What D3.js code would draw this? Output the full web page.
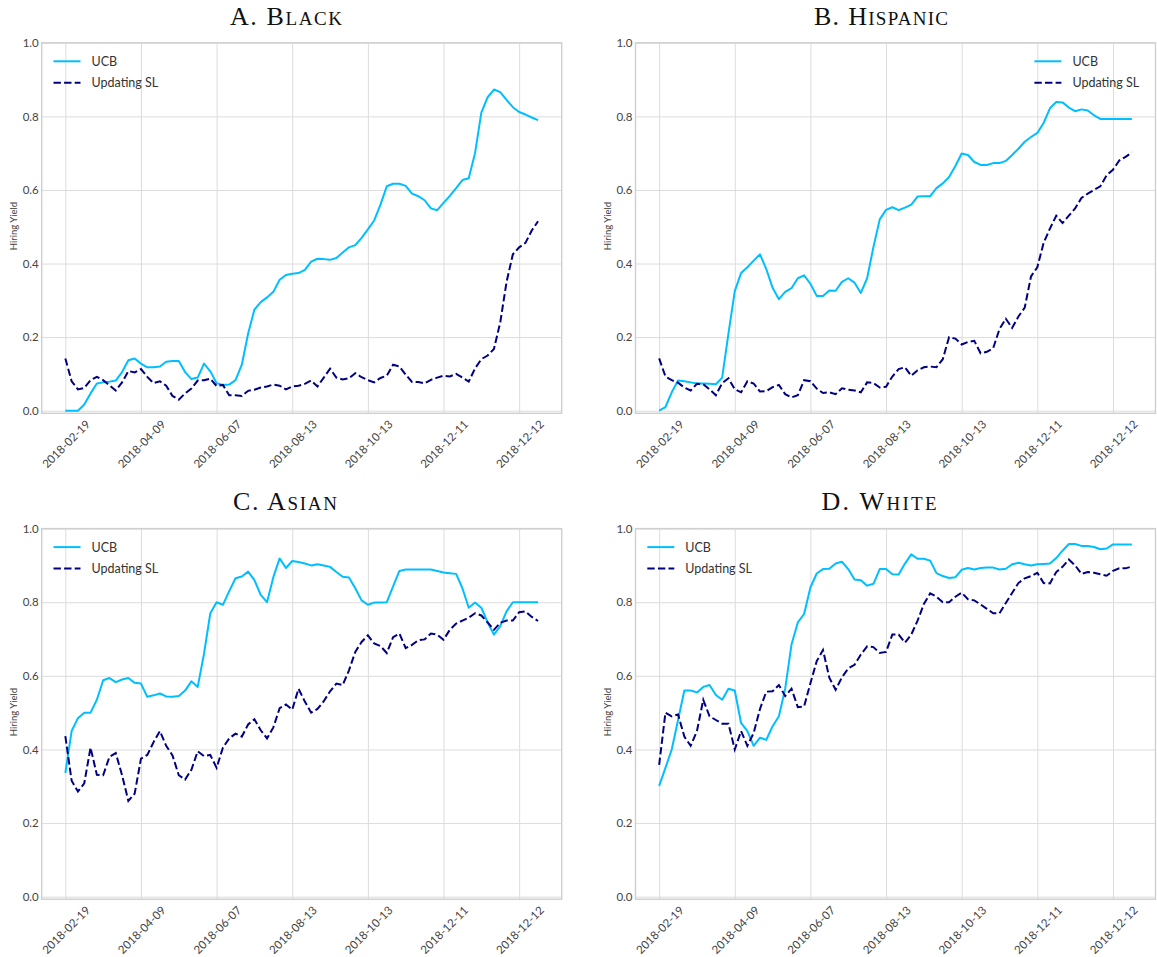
<!DOCTYPE html>
<html><head><meta charset="utf-8">
<script src="https://d3js.org/d3.v7.min.js"></script>
<style>
html,body{margin:0;padding:0;background:#fff;}
svg{display:block;}
</style></head>
<body>
<svg id="chart" width="1157" height="957"></svg>
<script>
// ---------- data ----------
const xTickLabels = ["2018-02-19","2018-04-09","2018-06-07","2018-08-13","2018-10-13","2018-12-11","2018-12-12"];
const tickStep = 12;
const yTicks = [0, 0.2, 0.4, 0.6, 0.8, 1.0];
const panelTitles = ["A. Black", "B. Hispanic", "C. Asian", "D. White"];
const seriesNames = ["UCB", "Updating SL"];

const blackUCB = [0.0,0.0,0.0,0.017,0.047,0.074,0.077,0.079,0.082,0.105,0.137,0.142,0.128,0.118,0.118,0.12,0.133,0.135,0.135,0.105,0.086,0.09,0.128,0.107,0.075,0.07,0.071,0.083,0.125,0.21,0.275,0.295,0.308,0.323,0.356,0.369,0.372,0.374,0.383,0.405,0.413,0.412,0.41,0.415,0.43,0.444,0.45,0.47,0.493,0.517,0.56,0.61,0.617,0.617,0.611,0.59,0.583,0.572,0.55,0.545,0.565,0.584,0.605,0.627,0.632,0.7,0.81,0.852,0.873,0.866,0.845,0.825,0.812,0.805,0.797,0.79];
const blackSL = [0.142,0.08,0.058,0.062,0.083,0.092,0.083,0.069,0.055,0.077,0.108,0.104,0.113,0.092,0.075,0.08,0.068,0.04,0.03,0.047,0.06,0.082,0.083,0.087,0.067,0.07,0.042,0.042,0.04,0.054,0.057,0.063,0.066,0.071,0.068,0.058,0.066,0.068,0.073,0.082,0.066,0.09,0.114,0.09,0.085,0.088,0.102,0.091,0.083,0.077,0.089,0.095,0.125,0.12,0.098,0.078,0.078,0.074,0.084,0.09,0.095,0.093,0.1,0.09,0.079,0.115,0.14,0.15,0.168,0.24,0.35,0.425,0.444,0.456,0.49,0.515];

const hispUCB = [0.0,0.01,0.05,0.082,0.08,0.077,0.074,0.074,0.073,0.072,0.09,0.21,0.325,0.374,0.39,0.408,0.425,0.385,0.334,0.303,0.323,0.333,0.36,0.368,0.345,0.312,0.312,0.327,0.326,0.35,0.36,0.348,0.32,0.36,0.445,0.52,0.546,0.553,0.545,0.552,0.56,0.582,0.583,0.583,0.605,0.618,0.635,0.665,0.699,0.695,0.676,0.668,0.668,0.673,0.673,0.679,0.695,0.712,0.731,0.744,0.755,0.782,0.822,0.839,0.838,0.824,0.814,0.819,0.816,0.803,0.793,0.793,0.793,0.793,0.793,0.793];
const hispSL = [0.142,0.093,0.083,0.076,0.063,0.055,0.073,0.072,0.058,0.042,0.075,0.088,0.058,0.05,0.08,0.074,0.052,0.053,0.064,0.07,0.045,0.036,0.042,0.083,0.08,0.06,0.048,0.05,0.045,0.061,0.057,0.055,0.05,0.077,0.075,0.063,0.065,0.093,0.113,0.118,0.095,0.11,0.118,0.12,0.118,0.14,0.2,0.196,0.18,0.187,0.19,0.156,0.16,0.17,0.222,0.25,0.225,0.256,0.28,0.365,0.39,0.456,0.495,0.53,0.51,0.53,0.55,0.578,0.59,0.6,0.61,0.64,0.655,0.68,0.69,0.702];

const asianUCB = [0.336,0.45,0.485,0.5,0.5,0.535,0.588,0.594,0.583,0.59,0.594,0.581,0.579,0.543,0.547,0.552,0.544,0.543,0.545,0.56,0.585,0.57,0.66,0.77,0.8,0.793,0.83,0.865,0.87,0.883,0.86,0.82,0.8,0.868,0.919,0.893,0.912,0.909,0.905,0.9,0.903,0.9,0.896,0.882,0.869,0.867,0.838,0.805,0.793,0.799,0.799,0.8,0.843,0.885,0.889,0.889,0.889,0.889,0.889,0.885,0.881,0.879,0.877,0.838,0.785,0.799,0.785,0.745,0.712,0.735,0.775,0.8,0.8,0.8,0.8,0.8];
const asianSL = [0.436,0.315,0.286,0.308,0.405,0.331,0.33,0.38,0.39,0.33,0.26,0.28,0.375,0.385,0.42,0.45,0.41,0.384,0.33,0.318,0.345,0.395,0.382,0.385,0.35,0.405,0.43,0.443,0.435,0.468,0.482,0.452,0.43,0.46,0.512,0.522,0.508,0.565,0.53,0.5,0.51,0.531,0.558,0.579,0.575,0.615,0.665,0.692,0.71,0.688,0.681,0.662,0.705,0.715,0.675,0.684,0.697,0.699,0.715,0.712,0.698,0.725,0.742,0.75,0.758,0.77,0.764,0.745,0.725,0.744,0.75,0.75,0.773,0.775,0.76,0.749];

const whiteUCB = [0.301,0.35,0.4,0.48,0.56,0.56,0.555,0.57,0.575,0.548,0.535,0.565,0.56,0.472,0.45,0.41,0.432,0.426,0.463,0.49,0.565,0.685,0.745,0.768,0.84,0.878,0.89,0.891,0.905,0.91,0.89,0.862,0.86,0.845,0.85,0.89,0.89,0.876,0.875,0.905,0.93,0.918,0.918,0.913,0.879,0.871,0.866,0.868,0.888,0.893,0.889,0.893,0.894,0.894,0.889,0.891,0.903,0.907,0.903,0.9,0.903,0.904,0.905,0.92,0.94,0.958,0.958,0.953,0.953,0.95,0.944,0.946,0.957,0.957,0.957,0.957];
const whiteSL = [0.358,0.5,0.49,0.495,0.435,0.41,0.45,0.535,0.49,0.48,0.47,0.47,0.4,0.45,0.41,0.445,0.51,0.557,0.558,0.575,0.545,0.565,0.515,0.517,0.58,0.64,0.67,0.595,0.562,0.596,0.62,0.63,0.658,0.68,0.678,0.662,0.665,0.712,0.712,0.69,0.712,0.75,0.795,0.824,0.815,0.8,0.8,0.815,0.826,0.808,0.805,0.794,0.782,0.77,0.77,0.798,0.825,0.852,0.865,0.871,0.88,0.852,0.851,0.882,0.896,0.916,0.9,0.877,0.882,0.88,0.876,0.872,0.885,0.892,0.892,0.897];

// ---------- layout ----------
const panels = [
  {title: panelTitles[0], ucb: blackUCB, sl: blackSL, left: 41.7, top: 42.8, bottom: 413.3, y1: 43.3, y0: 410.7, titleX: 286, titleY: 25, titleW: 112, legendRight: false, ylabX: 13},
  {title: panelTitles[1], ucb: hispUCB, sl: hispSL, left: 635.5, top: 42.8, bottom: 413.3, y1: 43.3, y0: 410.7, titleX: 881, titleY: 25, titleW: 134, legendRight: true, ylabX: 607.5},
  {title: panelTitles[2], ucb: asianUCB, sl: asianSL, left: 41.7, top: 528.6, bottom: 899.2, y1: 529.3, y0: 896.7, titleX: 285, titleY: 510, titleW: 104, legendRight: false, ylabX: 13.5},
  {title: panelTitles[3], ucb: whiteUCB, sl: whiteSL, left: 635.5, top: 528.6, bottom: 899.2, y1: 529.3, y0: 896.7, titleX: 879, titleY: 510, titleW: 115, legendRight: false, ylabX: 607.5, legendX: 647.3}
];
const panelW = 520;
const ucbColor = "#00BFFF";
const slColor = "#000080";
const labelFont = "Lato, 'Open Sans', sans-serif";

const svg = d3.select("#chart");

panels.forEach(p => {
  const n = p.ucb.length;
  const R = n - 1;
  const x = d3.scaleLinear().domain([-0.05 * R, 1.05 * R]).range([p.left, p.left + panelW]);
  const perUnit = (p.y0 - p.y1);
  const yMin = -(p.bottom - p.y0) / perUnit;
  const y = d3.scaleLinear().domain([yMin, 1.0]).range([p.bottom, p.top]);
  const g = svg.append("g");

  // y grid + labels
  const yAxis = g.append("g")
    .attr("transform", `translate(${p.left},0)`)
    .call(d3.axisLeft(y).tickValues(yTicks).tickFormat(d3.format(".1f")).tickSize(-panelW).tickPadding(3));
  yAxis.select(".domain").remove();
  yAxis.selectAll("line").attr("stroke", "#dcdcdc").attr("stroke-width", 1);
  yAxis.selectAll("text").attr("font-family", labelFont).attr("font-size", "11.5px").attr("fill", "#444");

  // x grid + labels
  const xTickVals = xTickLabels.map((_, i) => i * tickStep);
  const xAxis = g.append("g")
    .attr("transform", `translate(0,${p.bottom})`)
    .call(d3.axisBottom(x).tickValues(xTickVals).tickFormat((d, i) => xTickLabels[i]).tickSize(-(p.bottom - p.top)).tickPadding(0));
  xAxis.select(".domain").remove();
  xAxis.selectAll("line").attr("stroke", "#dcdcdc").attr("stroke-width", 1);
  xAxis.selectAll("text")
    .attr("y", null).attr("dy", null)
    .attr("text-anchor", "middle")
    .attr("dominant-baseline", "central")
    .attr("transform", "translate(0,30.5) rotate(-45)")
    .attr("font-family", labelFont).attr("font-size", "11.5px").attr("fill", "#444");

  // frame
  g.append("rect")
    .attr("x", p.left).attr("y", p.top)
    .attr("width", panelW).attr("height", p.bottom - p.top)
    .attr("fill", "none").attr("stroke", "#cfcfcf").attr("stroke-width", 1.4);

  // lines
  const line = d3.line().x((d, i) => x(i)).y(d => y(d));
  g.append("path").datum(p.ucb).attr("d", line)
    .attr("fill", "none").attr("stroke", ucbColor).attr("stroke-width", 2).attr("stroke-linejoin", "round");
  g.append("path").datum(p.sl).attr("d", line)
    .attr("fill", "none").attr("stroke", slColor).attr("stroke-width", 2)
    .attr("stroke-dasharray", "7.4,3.2");

  // title (small caps built from tspans)
  const t = g.append("text")
    .attr("x", p.titleX).attr("y", p.titleY)
    .attr("text-anchor", "middle")
    .attr("font-family", "'Liberation Serif', 'DejaVu Serif', serif")
    .attr("fill", "#111")
    .attr("textLength", p.titleW).attr("lengthAdjust", "spacing");
  const words = p.title.split(" ");
  words.forEach((w, wi) => {
    if (wi > 0) t.append("tspan").attr("font-size", "26px").text(" ");
    if (w.endsWith(".")) {
      t.append("tspan").attr("font-size", "26px").text(w);
    } else {
      t.append("tspan").attr("font-size", "26px").text(w[0]);
      t.append("tspan").attr("font-size", "19px").text(w.slice(1).toUpperCase());
    }
  });

  // y label
  g.append("text")
    .attr("transform", `translate(${p.ylabX},${(p.y0 + p.y1) / 2 - 1}) rotate(-90)`)
    .attr("text-anchor", "middle").attr("dominant-baseline", "central")
    .attr("font-family", labelFont).attr("font-size", "9.5px").attr("fill", "#444")
    .text("Hiring Yield");

  // legend
  let lx0;
  if (p.legendRight) lx0 = 1034.4; else lx0 = p.legendX || 53.5;
  const ly0 = p.top + 18.5;
  const items = [{name: seriesNames[0], color: ucbColor, dash: null}, {name: seriesNames[1], color: slColor, dash: "7.4,3.2"}];
  items.forEach((it, k) => {
    const yy = ly0 + k * 21.5;
    g.append("line").attr("x1", lx0).attr("x2", lx0 + 27).attr("y1", yy).attr("y2", yy)
      .attr("stroke", it.color).attr("stroke-width", 2).attr("stroke-dasharray", it.dash);
    g.append("text").attr("x", lx0 + 38).attr("y", yy).attr("dominant-baseline", "central")
      .attr("font-family", labelFont).attr("font-size", "12.5px").attr("fill", "#333")
      .text(it.name);
  });
});
</script>
</body></html>
